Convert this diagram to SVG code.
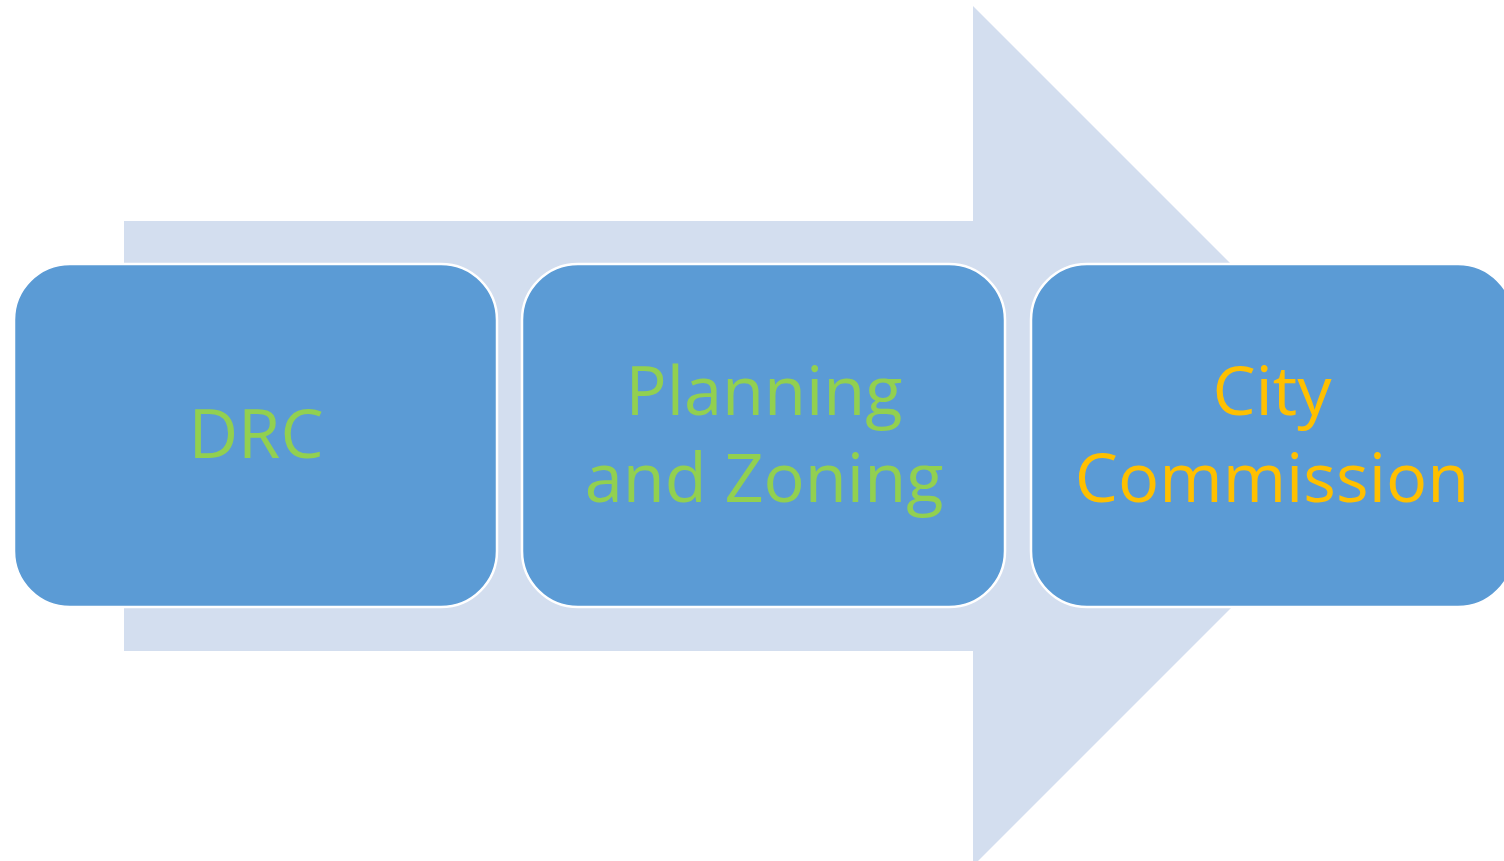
<svg xmlns="http://www.w3.org/2000/svg" width="1504" height="861" viewBox="0 0 1504 861">
<style>
.box{fill:#5B9BD5;stroke:#FFFFFF;stroke-width:2.5}
.t{font-family:"Open Sans","Noto Sans","Liberation Sans",sans-serif;font-size:68.5px;text-anchor:middle}
.g{fill:#92D050}
.o{fill:#FFC000}
</style>
<rect width="1504" height="861" fill="#FFFFFF"/>
<g id="connectors">
<polygon id="arrow" points="124,221 973,221 973,6 1403,436 973,866 973,651 124,651" fill="#D3DEEF"/>
</g>
<g id="node-drc">
<rect class="box" x="14" y="264" width="483" height="343" rx="56" ry="56"/>
<text class="t g" x="256" y="458">DRC</text>
</g>
<g id="node-pz">
<rect class="box" x="522" y="264" width="483" height="343" rx="56" ry="56"/>
<text class="t g" x="764" y="415">Planning</text>
<text class="t g" x="764" y="502">and Zoning</text>
</g>
<g id="node-cc">
<rect class="box" x="1031" y="264" width="483" height="343" rx="56" ry="56"/>
<text class="t o" x="1272" y="415">City</text>
<text class="t o" x="1272" y="502">Commission</text>
</g>
</svg>
